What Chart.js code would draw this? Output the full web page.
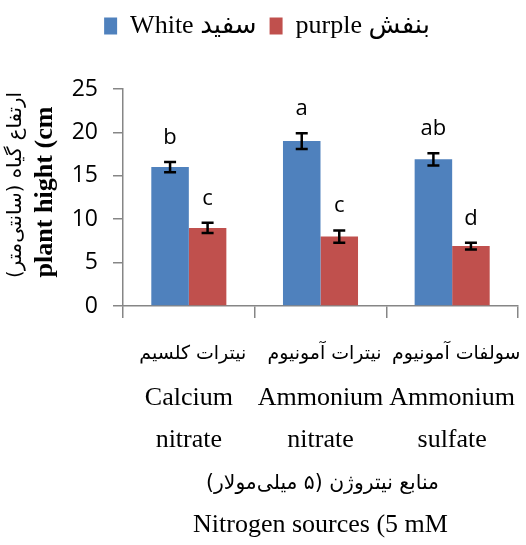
<!DOCTYPE html>
<html>
<head>
<meta charset="utf-8">
<script src="https://cdn.jsdelivr.net/npm/chart.js@4"></script>
<style>
  html, body { margin: 0; padding: 0; background: #fff; overflow: hidden; }
  #wrap { width: 534px; height: 545px; }
</style>
</head>
<body>
<div id="wrap"><canvas id="heightChart"></canvas></div>
<script>
// Data
const sourcesFa = ["نیترات کلسیم", "نیترات آمونیوم", "سولفات آمونیوم"];
const sourcesEn = [["Calcium", "nitrate"], ["Ammonium", "nitrate"], ["Ammonium", "sulfate"]];
const seriesNames = ["White سفید", "purple بنفش"];
const whiteHeight = [16, 19, 16.9];
const purpleHeight = [9, 8, 6.9];
const whiteErr = [0.6, 0.9, 0.7];
const purpleErr = [0.6, 0.7, 0.4];
const whiteLetters = ["b", "a", "ab"];
const purpleLetters = ["c", "c", "d"];
const yTicks = [0, 5, 10, 15, 20, 25];
const yTitleFa = "ارتفاع گیاه (سانتی‌متر)";
const yTitleEn = "plant hight (cm";
const xTitleFa = "منابع نیتروژن (۵ میلی‌مولار)";
const xTitleEn = "Nitrogen sources (5 mM";

const SERIF = "'Liberation Serif', 'DejaVu Sans', serif";
const SANS = "'Open Sans', sans-serif";
const FA = "'DejaVu Sans', sans-serif";
const AXIS_GREY = "#868686";

// first line left blank: the Persian line is drawn by the plugin below
const labels = sourcesEn.map((en) => ["", ...en]);

// font size that makes text span a given width
function fitSize(ctx, text, family, weight, width) {
  ctx.font = weight + " 20px " + family;
  return (20 * width) / ctx.measureText(text).width;
}

// Extra room under the legend
const legendSpace = {
  id: "legendSpace",
  beforeInit(chart) {
    const fit = chart.legend.fit;
    chart.legend.fit = function () {
      fit.bind(chart.legend)();
      this.height += 40;
    };
  },
};

// Error bars + significance letters
const errorBars = {
  id: "errorBars",
  afterDatasetsDraw(chart) {
    const ctx = chart.ctx;
    const yScale = chart.scales.y;
    chart.data.datasets.forEach((ds, i) => {
      const meta = chart.getDatasetMeta(i);
      meta.data.forEach((bar, j) => {
        const v = ds.data[j];
        const e = ds.errors[j];
        const top = yScale.getPixelForValue(v + e);
        const bottom = yScale.getPixelForValue(v - e);
        ctx.save();
        ctx.strokeStyle = "#000";
        ctx.lineWidth = 2.5;
        ctx.beginPath();
        ctx.moveTo(bar.x, top);
        ctx.lineTo(bar.x, bottom);
        ctx.moveTo(bar.x - 6, top);
        ctx.lineTo(bar.x + 6, top);
        ctx.moveTo(bar.x - 6, bottom);
        ctx.lineTo(bar.x + 6, bottom);
        ctx.stroke();
        ctx.fillStyle = "#000";
        ctx.font = "22px " + SANS;
        ctx.textAlign = "center";
        ctx.textBaseline = "alphabetic";
        ctx.fillText(ds.letters[j], bar.x, top - 18);
        ctx.restore();
      });
    });
  },
};

// Persian text lines: category line, x title line, y title (two lines)
const persianText = {
  id: "persianText",
  afterDraw(chart) {
    const ctx = chart.ctx;
    const xScale = chart.scales.x;
    ctx.save();
    ctx.fillStyle = "#000";
    ctx.textAlign = "center";
    ctx.textBaseline = "middle";
    ctx.direction = "rtl";

    // category names
    const tickSize = fitSize(ctx, sourcesFa[0], FA, "", 107);
    ctx.font = tickSize + "px " + FA;
    sourcesFa.forEach((fa, i) => {
      ctx.fillText(fa, xScale.getPixelForValue(i) + 4, xScale.top + 48);
    });

    // x title, Persian line
    ctx.font = fitSize(ctx, xTitleFa, FA, "", 233) + "px " + FA;
    ctx.fillText(xTitleFa, (xScale.left + xScale.right) / 2 + 2, xScale.top + 178);

    // y title
    ctx.save();
    ctx.translate(16, 185);
    ctx.rotate(-Math.PI / 2);
    ctx.font = fitSize(ctx, yTitleFa, FA, "", 186) + "px " + FA;
    ctx.fillText(yTitleFa, 0, 0);
    ctx.restore();
    ctx.direction = "ltr";
    ctx.translate(45, 192);
    ctx.rotate(-Math.PI / 2);
    ctx.font = "bold " + fitSize(ctx, yTitleEn, SERIF, "bold", 171) + "px " + SERIF;
    ctx.fillText(yTitleEn, 0, 0);
    ctx.restore();
  },
};

const ctx = document.getElementById("heightChart").getContext("2d");
new Chart(ctx, {
  type: "bar",
  data: {
    labels: labels,
    datasets: [
      {
        label: seriesNames[0],
        data: whiteHeight,
        errors: whiteErr,
        letters: whiteLetters,
        backgroundColor: "#4F81BD",
      },
      {
        label: seriesNames[1],
        data: purpleHeight,
        errors: purpleErr,
        letters: purpleLetters,
        backgroundColor: "#C0504D",
      },
    ],
  },
  options: {
    responsive: true,
    maintainAspectRatio: false,
    animation: false,
    layout: { padding: 0 },
    datasets: {
      bar: { categoryPercentage: 0.57, barPercentage: 1 },
    },
    plugins: {
      tooltip: { enabled: false },
      legend: {
        position: "top",
        labels: {
          color: "#000",
          font: { family: SERIF, size: 26 },
          boxWidth: 13,
          boxHeight: 17,
          padding: 13,
        },
      },
    },
    scales: {
      x: {
        grid: {
          offset: true,
          drawOnChartArea: false,
          drawTicks: true,
          tickLength: 12,
          color: AXIS_GREY,
          lineWidth: 1.5,
        },
        border: { display: true, color: AXIS_GREY, width: 1.5 },
        ticks: {
          color: "#000",
          font: { family: SERIF, size: 26, lineHeight: 1.58 },
          padding: 19,
          maxRotation: 0,
          autoSkip: false,
        },
        title: {
          display: true,
          text: ["", xTitleEn],
          color: "#000",
          font: { family: SERIF, size: 26, lineHeight: 1.54 },
          padding: { top: 4, bottom: 0 },
        },
        afterFit(scale) {
          scale.height = 239;
        },
      },
      y: {
        min: yTicks[0],
        max: yTicks[yTicks.length - 1],
        ticks: {
          stepSize: yTicks[1] - yTicks[0],
          color: "#000",
          font: { family: SANS, size: 23 },
          padding: 15,
        },
        grid: {
          drawOnChartArea: false,
          drawTicks: true,
          tickLength: 10,
          color: AXIS_GREY,
          lineWidth: 1.5,
        },
        border: { display: true, color: AXIS_GREY, width: 1.5 },
        afterFit(scale) {
          scale.width = 123;
        },
      },
    },
  },
  plugins: [legendSpace, errorBars, persianText],
});
</script>
</body>
</html>
